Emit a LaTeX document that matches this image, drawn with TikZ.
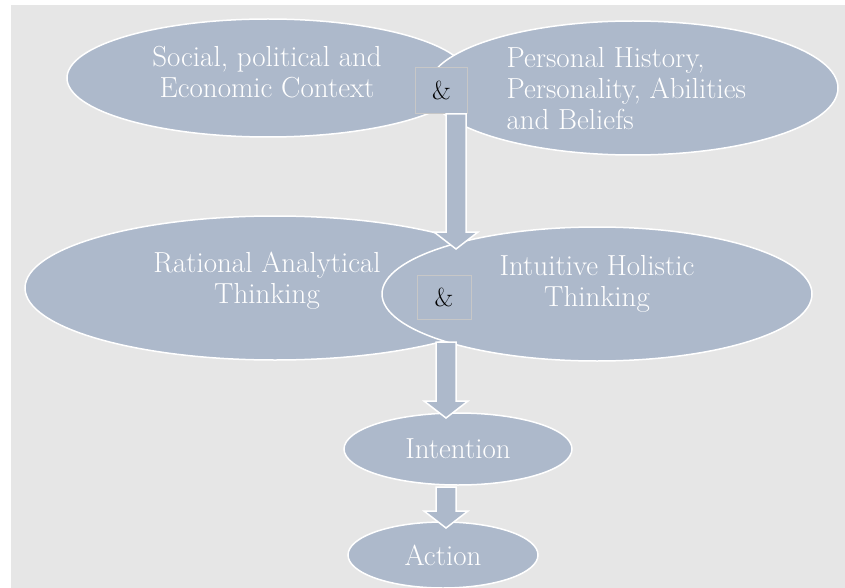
\documentclass[tikz,border=0pt]{standalone}
\usepackage{tikz}
\usetikzlibrary{calc,shapes.geometric,positioning}

\definecolor{bluegray}{HTML}{ADB9CB}
\definecolor{panel}{HTML}{E6E6E6}

\newcommand{\blockarrow}[2]{%
  \filldraw[arrowbody] let \p1=(#1), \p2=(#2) in
    (\x2-10pt,\y1) -- (\x2+10pt,\y1) -- (\x2+10pt,\y2+17pt) -- (\x2+22pt,\y2+17pt)
    -- (\x2,\y2) -- (\x2-22pt,\y2+17pt) -- (\x2-10pt,\y2+17pt) -- cycle;}

\begin{document}
\begin{tikzpicture}[x=1pt,y=-1pt]
    \tikzset{blob/.style={ellipse,fill=bluegray,draw=white,line width=1.5pt,inner sep=0pt},
        words/.style={text=white,font=\fontsize{29}{31}\selectfont,align=center},
        ampbox/.style={fill=bluegray,draw=black!22,line width=0.6pt,minimum width=52pt,minimum height=46pt,font=\fontsize{26}{28}\selectfont},
        arrowbody/.style={fill=bluegray,draw=white,line width=1.5pt,line join=miter}}
    \useasboundingbox[fill=white] (0,0) rectangle (845,588);
    \fill[panel] (11,5) rectangle (845,588);

    % top row
    \node[blob,minimum width=402pt,minimum height=118pt] (social) at (268,78) {};
    \node[words] (socialtxt) at (267,72) {Social, political and\\Economic Context};
    \node[blob,minimum width=410pt,minimum height=134pt] (personal) at (633,88) {};
    \node[words,align=left,anchor=west] (personaltxt) at (503,89) {Personal History,\\Personality, Abilities\\and Beliefs};
    \node[ampbox] (amp1) at (441.5,90.5) {\&};

    % thinking
    \node[blob,minimum width=500pt,minimum height=144pt] (rational) at (275,288) {};
    \node[words] (rationaltxt) at (267,281) {Rational Analytical\\Thinking};
    \node[blob,minimum width=430pt,minimum height=134pt] (intuitive) at (597,294) {};
    \node[words] (intuitivetxt) at (597,284) {Intuitive Holistic\\Thinking};
    \node[ampbox,minimum width=54pt,minimum height=44pt] (amp2) at (444,297) {\&};

    % intention and action
    \node[blob,minimum width=228pt,minimum height=72pt,words] (intention) at (458,449) {Intention};
    \node[blob,minimum width=190pt,minimum height=66pt,words] (action) at (443,555) {Action};

    \coordinate (a1top) at (456,114);
    \coordinate (a1tip) at (456,249);
    \coordinate (a2top) at (446,342);
    \coordinate (a2tip) at (446,418);
    \coordinate (a3top) at (446,487);
    \coordinate (a3tip) at (446,528);
    \blockarrow{a1top}{a1tip}
    \blockarrow{a2top}{a2tip}
    \blockarrow{a3top}{a3tip}
\end{tikzpicture}
\end{document}
